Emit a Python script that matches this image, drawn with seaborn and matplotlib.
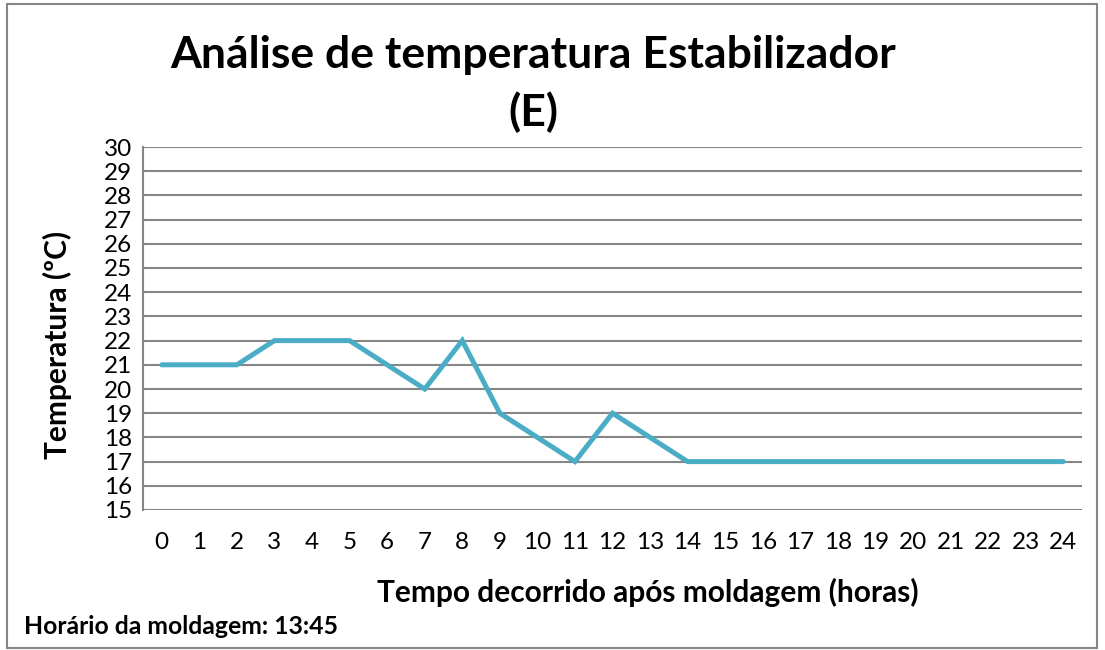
import matplotlib
matplotlib.use("Agg")
import matplotlib.pyplot as plt
import seaborn as sns
import pandas as pd
from matplotlib.patches import Rectangle

# data
horas = list(range(25))
temperatura = [21, 21, 21, 22, 22, 22, 21, 20, 22, 19, 18, 17, 19, 18, 17,
               17, 17, 17, 17, 17, 17, 17, 17, 17, 17]
y_ticks = list(range(15, 31))

df = pd.DataFrame({"hora": horas, "temp": temperatura})

sns.set_style("white")
plt.rcParams['font.family'] = ['Lato', 'DejaVu Sans']
plt.rcParams['text.color'] = 'black'
plt.rcParams['axes.labelcolor'] = 'black'
plt.rcParams['xtick.labelcolor'] = 'black'
plt.rcParams['ytick.labelcolor'] = 'black'

W, H = 1105, 650
fig = plt.figure(figsize=(W / 100, H / 100), dpi=100)
ax = fig.add_axes([143 / W, 1 - 510 / H, (1082 - 143) / W, (510 - 147) / H])

grid_col = "#868686"
for yv in y_ticks:
    ax.axhline(yv, color=grid_col, lw=1.5, zorder=1)

sns.lineplot(data=df, x="hora", y="temp", ax=ax, color="#4BACC6", lw=3.6,
             zorder=3, solid_capstyle="round", solid_joinstyle="miter")

ax.set_xlim(-0.5, 24.5)
ax.set_ylim(15, 30)
ax.set_yticks(y_ticks)
ax.set_xticks(horas)
ax.set_xlabel("")
ax.set_ylabel("")
ax.tick_params(axis="y", length=5, width=1.5, color=grid_col, labelsize=17.5, pad=3)
ax.tick_params(axis="x", length=0, labelsize=17.5, pad=16)
for s in ["top", "right", "bottom"]:
    ax.spines[s].set_visible(False)
ax.spines["left"].set_color(grid_col)
ax.spines["left"].set_linewidth(1.5)

# axis titles placed where they sit in the original
fig.text(648 / W, 1 - 592 / H, "Tempo decorrido após moldagem (horas)", ha="center", va="center",
         fontsize=21.5, fontweight="bold")
fig.text(57 / W, 1 - 345 / H, "Temperatura (ºC)", ha="center", va="center", rotation=90,
         fontsize=21.5, fontweight="bold")

fig.text(533 / W, 1 - 55 / H, "Análise de temperatura Estabilizador", ha="center", va="center",
         fontsize=32, fontweight="bold")
fig.text(533 / W, 1 - 112 / H, "(E)", ha="center", va="center", fontsize=32, fontweight="bold")
fig.text(24 / W, 1 - 627 / H, "Horário da moldagem: 13:45", ha="left", va="center",
         fontsize=17.8, fontweight="bold")

fig.patches.append(Rectangle((7 / W, 2 / H), 1090 / W, 644 / H, transform=fig.transFigure,
                             fill=False, edgecolor=grid_col, lw=1.5))

fig.savefig("out.png", dpi=100)
